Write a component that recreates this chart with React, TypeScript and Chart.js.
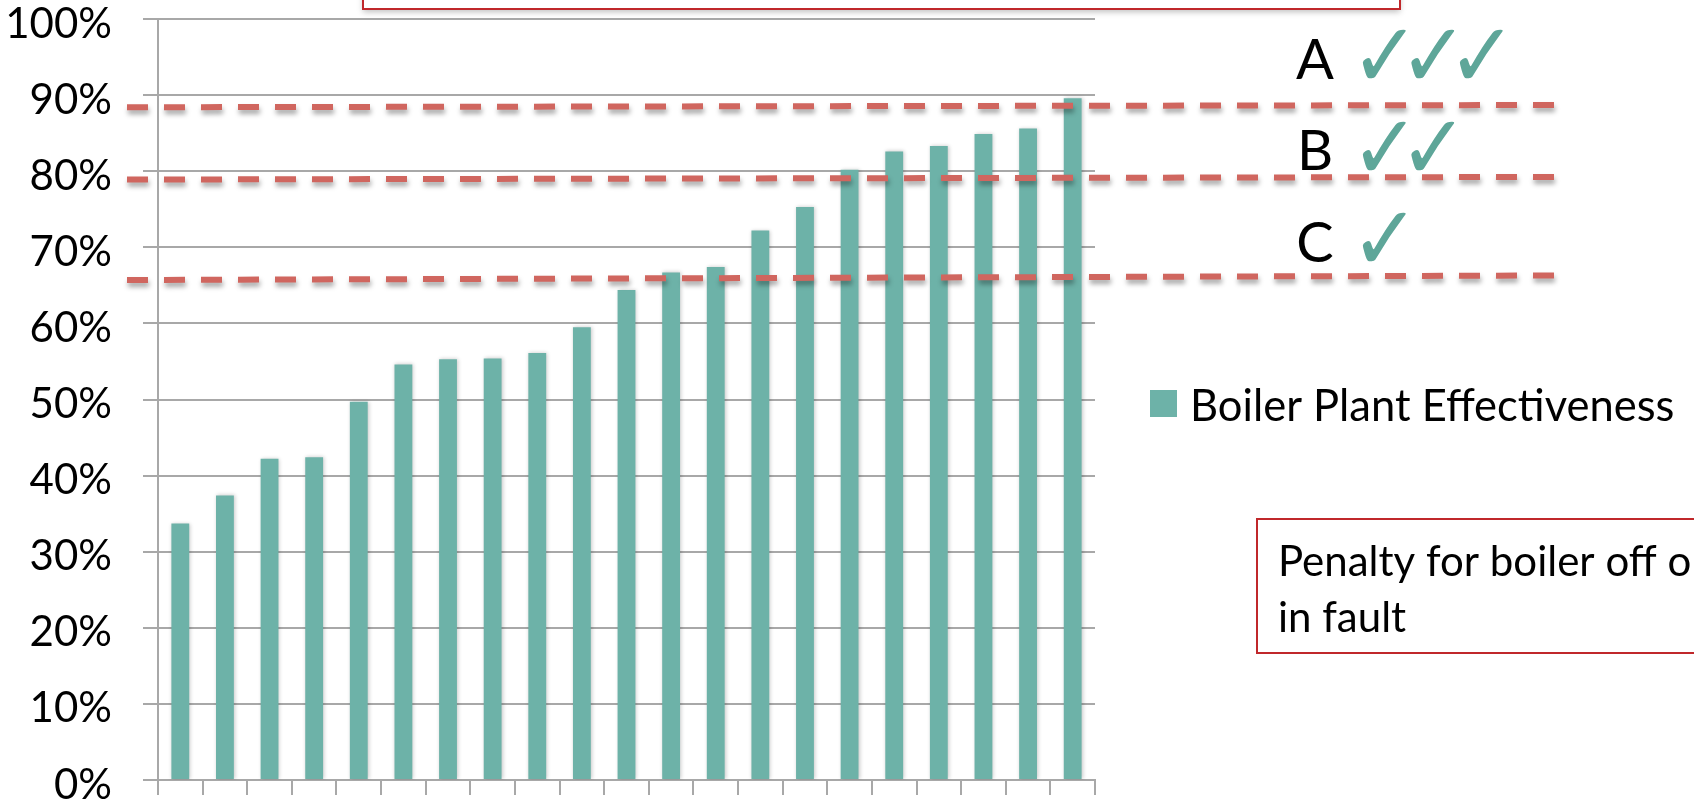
import React, { useEffect, useRef } from 'react';
import { Chart, registerables } from 'chart.js';

Chart.register(...registerables);

const plants = ['1', '2', '3', '4', '5', '6', '7', '8', '9', '10', '11', '12', '13', '14', '15', '16', '17', '18', '19', '20', '21'];
const effectiveness = [33.7, 37.4, 42.2, 42.4, 49.7, 54.6, 55.3, 55.4, 56.1, 59.5, 64.4, 66.7, 67.4, 72.2, 75.3, 80.2, 82.6, 83.3, 84.9, 85.6, 89.6];
const yTickValues = [0, 10, 20, 30, 40, 50, 60, 70, 80, 90, 100];
const thresholdLeft = [88.4, 78.9, 65.7];
const thresholdRight = [88.7, 79.25, 66.3];
const grades = ['A', 'B', 'C'];
const gradeChecks = [3, 2, 1];
const gradeValues = [94.5, 82.5, 70.5];
const seriesLabel = 'Boiler Plant Effectiveness';
const noteLines = ['Penalty for boiler off or', 'in fault'];

const BAR = '#6db2a8';
const CHECK = '#5ea699';
const DASH = '#d0665f';
const GRID = '#a8a8a8';
const BOX = '#c0282b';
const FONT = 'Lato, "Open Sans", sans-serif';

const overlay = {
  id: 'overlay',
  beforeDatasetsDraw(chart: any) {
    const ctx = chart.ctx;
    ctx.save();
    ctx.shadowColor = 'rgba(0,0,0,0.22)';
    ctx.shadowBlur = 4;
    ctx.shadowOffsetX = 1;
    ctx.shadowOffsetY = 0;
  },
  afterDatasetsDraw(chart: any) {
    chart.ctx.restore();
  },
  afterDraw(chart: any) {
    const ctx = chart.ctx;
    const y = chart.scales.y;
    const x0 = 127;
    const x1 = 1561;
    thresholdLeft.forEach((v, i) => {
      ctx.save();
      ctx.strokeStyle = DASH;
      ctx.lineWidth = 6;
      ctx.setLineDash([21, 16]);
      ctx.shadowColor = 'rgba(0,0,0,0.35)';
      ctx.shadowBlur = 5;
      ctx.shadowOffsetY = 4;
      ctx.shadowOffsetX = 1;
      ctx.beginPath();
      ctx.moveTo(x0, y.getPixelForValue(v));
      ctx.lineTo(x1, y.getPixelForValue(thresholdRight[i]));
      ctx.stroke();
      ctx.restore();
    });
    grades.forEach((g, i) => {
      const py = y.getPixelForValue(gradeValues[i]);
      ctx.save();
      ctx.fillStyle = '#000';
      ctx.font = `56px ${FONT}`;
      ctx.textAlign = 'center';
      ctx.textBaseline = 'middle';
      ctx.fillText(g, 1315, py);
      ctx.fillStyle = CHECK;
      ctx.font = 'bold 70px "DejaVu Sans"';
      ctx.textAlign = 'center';
      for (let k = 0; k < gradeChecks[i]; k++) {
        ctx.save();
        ctx.translate(1385 + k * 48.6, py + 3);
        ctx.scale(1.18, 1.3);
        ctx.fillText('\u2713', 0, 0);
        ctx.restore();
      }
      ctx.restore();
    });
    const ds = chart.data.datasets[0];
    ctx.save();
    ctx.fillStyle = ds.backgroundColor;
    ctx.fillRect(1150, 390, 27, 27);
    ctx.fillStyle = '#000';
    ctx.font = `43.5px ${FONT}`;
    ctx.textAlign = 'left';
    ctx.textBaseline = 'alphabetic';
    ctx.fillText(ds.label, 1190, 421);
    ctx.restore();
    ctx.save();
    ctx.shadowColor = 'rgba(0,0,0,0.25)';
    ctx.shadowBlur = 6;
    ctx.shadowOffsetY = 3;
    ctx.fillStyle = '#fff';
    ctx.fillRect(363, -20, 1037, 29);
    ctx.restore();
    ctx.save();
    ctx.strokeStyle = BOX;
    ctx.lineWidth = 2;
    ctx.strokeRect(363, -20, 1037, 29);
    ctx.restore();
    ctx.save();
    ctx.fillStyle = '#fff';
    ctx.fillRect(1257, 519, 500, 134);
    ctx.strokeStyle = BOX;
    ctx.lineWidth = 2;
    ctx.strokeRect(1257, 519, 500, 134);
    ctx.fillStyle = '#000';
    ctx.font = `42px ${FONT}`;
    ctx.textAlign = 'left';
    ctx.textBaseline = 'alphabetic';
    ctx.fillText(noteLines[0], 1278, 576);
    ctx.fillText(noteLines[1], 1278, 632);
    ctx.restore();
  },
};

export default function App() {
  const ref = useRef<HTMLCanvasElement>(null);
  useEffect(() => {
    if (!ref.current) return;
    const chart = new Chart(ref.current, {
      type: 'bar',
      data: {
        labels: plants,
        datasets: [
          {
            label: seriesLabel,
            data: effectiveness,
            backgroundColor: BAR,
            borderWidth: 0,
            categoryPercentage: 0.8,
            barPercentage: 0.5,
          },
        ],
      },
      options: {
        animation: false,
        responsive: false,
        devicePixelRatio: 1,
        layout: { padding: { top: 19, right: 599, bottom: 0, left: 0 } },
        plugins: { legend: { display: false }, tooltip: { enabled: false } },
        scales: {
          x: {
            grid: { drawOnChartArea: false, drawTicks: true, tickLength: 15, color: GRID, lineWidth: 2 },
            border: { display: true, color: GRID, width: 2 },
            ticks: { display: false },
            afterFit: (s: any) => { s.height = 23; s.paddingLeft = 0; s.paddingRight = 0; },
          },
          y: {
            min: 0,
            max: 100,
            afterBuildTicks: (s: any) => { s.ticks = yTickValues.map((v) => ({ value: v })); },
            grid: { color: GRID, lineWidth: 2, tickLength: 15 },
            border: { display: true, color: GRID, width: 2 },
            ticks: {
              color: '#000',
              font: { family: FONT, size: 42 },
              padding: 31,
              labelOffset: 5,
              callback: (v: any) => `${v}%`,
            },
            afterFit: (s: any) => { s.width = 158; s.paddingTop = 0; s.paddingBottom = 0; },
          },
        },
      },
      plugins: [overlay],
    });
    document.fonts && document.fonts.ready.then(() => chart.update());
    return () => chart.destroy();
  }, []);
  return (
    <div style={{ position: 'absolute', left: 0, top: 0, width: 1694, height: 803, background: '#fff' }}>
      <canvas ref={ref} width={1694} height={803} />
    </div>
  );
}
